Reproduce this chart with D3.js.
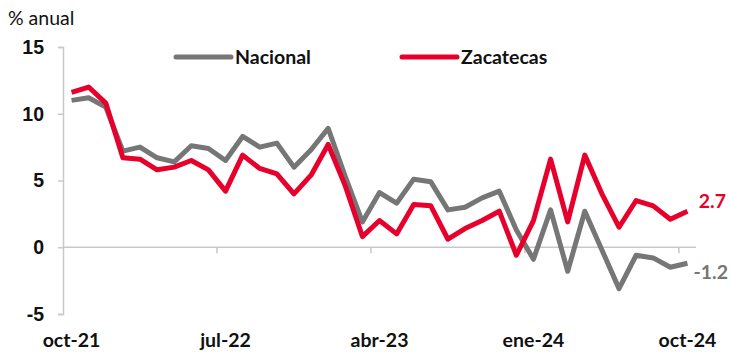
<!DOCTYPE html>
<html>
<head>
<meta charset="utf-8">
<script src="https://cdn.jsdelivr.net/npm/d3@7"></script>
<style>
  html, body { margin: 0; padding: 0; background: #fff; }
  svg { display: block; font-family: Lato, "Open Sans", sans-serif; }
</style>
</head>
<body>
<svg id="chart" width="730" height="352"></svg>
<script>
// Monthly periods, oct-21 .. oct-24
const monthNames = ["ene","feb","mar","abr","may","jun","jul","ago","sep","oct","nov","dic"];
const months = [];
for (let i = 0; i < 37; i++) {
  const m = (9 + i) % 12, yr = 21 + Math.floor((9 + i) / 12);
  months.push(monthNames[m] + "-" + yr);
}

// Annual variation, %
const nacional = [11.0, 11.2, 10.5, 7.2, 7.5, 6.7, 6.4, 7.6, 7.4, 6.5, 8.3, 7.5, 7.8, 6.0, 7.3, 8.9,
                  5.3, 1.9, 4.1, 3.3, 5.1, 4.9, 2.8, 3.0, 3.7, 4.2, 1.3, -0.9, 2.8, -1.8, 2.7, -0.2,
                  -3.1, -0.6, -0.8, -1.5, -1.2];
const zacatecas = [11.6, 12.0, 10.8, 6.7, 6.6, 5.8, 6.0, 6.5, 5.8, 4.2, 6.9, 5.9, 5.5, 4.0, 5.4, 7.7,
                   4.6, 0.8, 2.0, 1.0, 3.2, 3.1, 0.6, 1.4, 2.0, 2.7, -0.6, 2.0, 6.6, 1.9, 6.9, 4.0,
                   1.5, 3.5, 3.1, 2.1, 2.7];

const yTicks = [-5, 0, 5, 10, 15];
const xLabelMonths = ["oct-21", "jul-22", "abr-23", "ene-24", "oct-24"];

const series = [
  { name: "Nacional", values: nacional, color: "#767676" },
  { name: "Zacatecas", values: zacatecas, color: "#e8002d" }
];

const svg = d3.select("#chart");
const plotLeft = 63, plotRight = 696, plotTop = 47, plotBottom = 314;
const fontSize = 19.5;

const x = d3.scaleBand().domain(months).range([plotLeft, plotRight]).paddingInner(0).paddingOuter(0);
const y = d3.scaleLinear().domain([-5, 15]).range([plotBottom, plotTop]);
const cx = d => x(d) + x.bandwidth() / 2;

const axisColor = "#c8c8c8";

// Y axis
const yAxis = svg.append("g")
  .attr("transform", `translate(${plotLeft},0)`)
  .call(d3.axisLeft(y).tickValues(yTicks).tickSize(5).tickPadding(14).tickFormat(d => String(d)));
yAxis.select(".domain").attr("stroke", axisColor).attr("stroke-width", 1.5);
yAxis.selectAll(".tick line").attr("stroke", axisColor).attr("stroke-width", 1.5);
yAxis.selectAll(".tick text")
  .attr("fill", "#111").attr("font-size", fontSize).attr("font-weight", 700);

// X axis at zero, ticks at category boundaries every nine months
const xg = svg.append("g").attr("transform", `translate(0,${y(0)})`);
xg.append("line").attr("x1", plotLeft).attr("x2", plotRight).attr("stroke", axisColor).attr("stroke-width", 1.5);
xg.selectAll("line.tk").data(months.filter((m, i) => i % 9 === 0 && i > 0))
  .join("line").attr("class", "tk")
  .attr("x1", d => x(d)).attr("x2", d => x(d))
  .attr("y1", 0).attr("y2", 6)
  .attr("stroke", axisColor).attr("stroke-width", 1.5);

// X labels along the bottom
svg.append("g").selectAll("text").data(xLabelMonths).join("text")
  .attr("x", d => cx(d)).attr("y", 347)
  .attr("text-anchor", "middle")
  .attr("font-size", fontSize).attr("font-weight", 700).attr("fill", "#111")
  .text(d => d);

// Unit label
svg.append("text").attr("x", 8).attr("y", 25)
  .attr("font-size", fontSize).attr("fill", "#111").text("% anual");

// Lines
const line = d3.line().x((d, i) => cx(months[i])).y(d => y(d));
svg.append("g").selectAll("path").data(series).join("path")
  .attr("d", d => line(d.values))
  .attr("fill", "none").attr("stroke", d => d.color)
  .attr("stroke-width", 5).attr("stroke-linejoin", "round").attr("stroke-linecap", "butt");

// End labels, right-aligned near the edge
series.forEach(s => {
  const v = s.values[s.values.length - 1];
  svg.append("text")
    .attr("x", s.name === "Zacatecas" ? 726 : 728)
    .attr("y", y(v) + (s.name === "Zacatecas" ? -10 : 9))
    .attr("dy", "0.35em")
    .attr("text-anchor", "end")
    .attr("font-size", fontSize).attr("font-weight", 700).attr("fill", s.color)
    .text(v.toFixed(1));
});

// Legend
const legendX = [176, 402];
const lg = svg.append("g").selectAll("g").data(series).join("g")
  .attr("transform", (d, i) => `translate(${legendX[i]},57)`);
lg.append("line").attr("x1", 0).attr("x2", 55).attr("y1", 0).attr("y2", 0)
  .attr("stroke", d => d.color).attr("stroke-width", 5).attr("stroke-linecap", "round");
lg.append("text").attr("x", 59).attr("dy", "0.35em")
  .attr("font-size", fontSize).attr("font-weight", 700).attr("fill", "#111")
  .text(d => d.name);
</script>
</body>
</html>
